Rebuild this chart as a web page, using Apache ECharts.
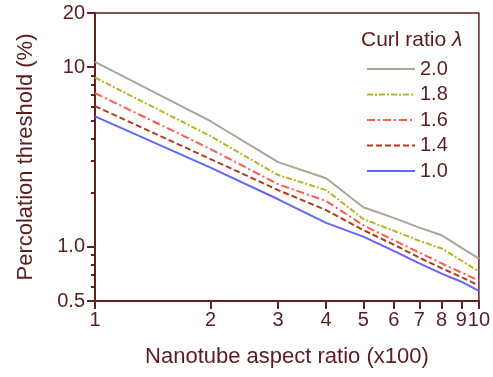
<!DOCTYPE html>
<html>
<head>
<meta charset="utf-8">
<script src="https://cdn.jsdelivr.net/npm/echarts@6/dist/echarts.min.js"></script>
<style>
html,body{margin:0;padding:0;background:#fff;}
#chart{width:493px;height:377px;}
</style>
</head>
<body>
<div id="chart"></div>
<script>
// Aspect ratio (x100)
var aspectRatio = [1, 2, 3, 4, 5, 6, 7, 8, 9, 10];
// Percolation threshold (%) per curl ratio
var curl20 = [10.7, 5.0, 2.96, 2.41, 1.66, 1.45, 1.28, 1.16, 0.99, 0.86];
var curl18 = [8.75, 4.13, 2.51, 2.07, 1.43, 1.23, 1.08, 0.98, 0.84, 0.73];
var curl16 = [7.17, 3.50, 2.23, 1.80, 1.32, 1.09, 0.93, 0.81, 0.72, 0.65];
var curl14 = [6.07, 3.08, 2.07, 1.60, 1.24, 1.03, 0.87, 0.76, 0.68, 0.61];
var curl10 = [5.32, 2.76, 1.84, 1.36, 1.14, 0.95, 0.81, 0.71, 0.64, 0.57];
var seriesNames = ['2.0', '1.8', '1.6', '1.4', '1.0'];
var xTicks = [1, 2, 3, 4, 5, 6, 7, 8, 9, 10];
var yMajorTicks = [0.5, 1, 10, 20];
var yMinorTicks = [0.6, 0.7, 0.8, 0.9, 2, 3, 4, 5, 6, 7, 8, 9];

var txt = '#5a1d1d';
var axisCol = '#5e2222';
var font = 'Liberation Sans, Arial, sans-serif';

function pairs(ys) { return aspectRatio.map(function (x, i) { return [x, ys[i]]; }); }

var styles = [
  { color: '#aaa597', type: 'solid' },
  { color: '#b7b622', type: [6, 2, 2, 2] },
  { color: '#ff5b4b', type: [8, 3, 2, 3] },
  { color: '#b23a1a', type: [6, 3] },
  { color: '#6464ff', type: 'solid' }
];
var allData = [curl20, curl18, curl16, curl14, curl10];

var chart = echarts.init(document.getElementById('chart'), null, { renderer: 'canvas' });
chart.setOption({
  animation: false,
  textStyle: { fontFamily: font, color: txt },
  title: {
    text: 'Curl ratio {l|λ}',
    left: 361, top: 30, padding: 0,
    textStyle: {
      fontFamily: font, fontSize: 21, fontWeight: 'normal', color: txt,
      rich: { l: { fontFamily: font, fontSize: 21, fontStyle: 'italic', color: txt } }
    }
  },
  legend: {
    data: seriesNames,
    orient: 'vertical',
    left: 366, top: 59, padding: 0,
    itemWidth: 48, itemHeight: 14, itemGap: 5.5,
    itemStyle: { opacity: 0 },
    textStyle: { fontFamily: font, fontSize: 20, color: txt, lineHeight: 20 }
  },
  grid: {
    left: 95, right: 12, top: 13, bottom: 76,
    show: true, borderColor: axisCol, borderWidth: 1.5, backgroundColor: 'transparent'
  },
  xAxis: {
    type: 'log', min: 1, max: 10,
    name: 'Nanotube aspect ratio (x100)', nameLocation: 'middle', nameGap: 45,
    nameTextStyle: { fontFamily: font, fontSize: 22, color: txt },
    axisLine: { lineStyle: { color: axisCol, width: 2 } },
    axisTick: { customValues: xTicks, length: 8, lineStyle: { color: axisCol, width: 2 } },
    axisLabel: { customValues: xTicks, fontFamily: font, fontSize: 20, color: txt, margin: 9,
      formatter: function (v) { return String(Math.round(v)); } },
    splitLine: { show: false }, minorTick: { show: false }
  },
  yAxis: [{
    type: 'log', min: 0.5, max: 20,
    name: 'Percolation threshold (%)', nameLocation: 'middle', nameGap: 58,
    nameTextStyle: { fontFamily: font, fontSize: 22, color: txt },
    axisLine: { lineStyle: { color: axisCol, width: 2 } },
    axisTick: { customValues: yMajorTicks, length: 8, lineStyle: { color: axisCol, width: 2 } },
    axisLabel: { customValues: yMajorTicks, fontFamily: font, fontSize: 20, color: txt, margin: 10,
      formatter: function (v) {
        if (Math.abs(v - 1) < 1e-6) return '1.0';
        if (v < 1) return v.toFixed(1);
        return String(Math.round(v));
      } },
    splitLine: { show: false }
  }, {
    type: 'log', min: 0.5, max: 20, position: 'left', offset: 0,
    axisLine: { show: false },
    axisTick: { customValues: yMinorTicks, length: 4, lineStyle: { color: axisCol, width: 2 } },
    axisLabel: { show: false },
    splitLine: { show: false }
  }],
  series: seriesNames.map(function (n, i) {
    return {
      name: n, type: 'line', yAxisIndex: 0, symbol: 'none', smooth: false,
      data: pairs(allData[i]),
      lineStyle: { color: styles[i].color, width: 2, type: styles[i].type },
      itemStyle: { color: styles[i].color },
      z: 10 - i
    };
  })
});
</script>
</body>
</html>
